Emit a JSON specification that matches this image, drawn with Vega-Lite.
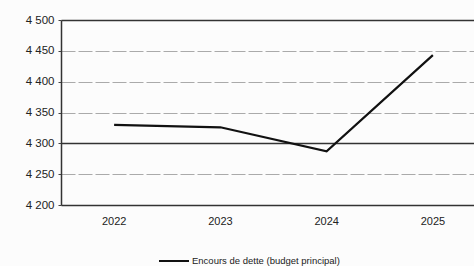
{
  "$schema": "https://vega.github.io/schema/vega-lite/v6.json",
  "autosize": "none",
  "padding": {"left": 61, "top": 20, "right": 0, "bottom": 61},
  "width": 425,
  "height": 185,
  "background": "#fcfcfc",
  "config": {"view": {"stroke": null}, "font": "Liberation Sans"},
  "data": {"values": [
    {"annee": "2022", "valeur": 4330, "serie": "Encours de dette (budget principal)"},
    {"annee": "2023", "valeur": 4326, "serie": "Encours de dette (budget principal)"},
    {"annee": "2024", "valeur": 4287, "serie": "Encours de dette (budget principal)"},
    {"annee": "2025", "valeur": 4443, "serie": "Encours de dette (budget principal)"}
  ]},
  "mark": {"type": "line", "strokeWidth": 2.2, "color": "#111"},
  "encoding": {
    "x": {
      "field": "annee", "type": "ordinal",
      "scale": {"type": "band", "paddingInner": 0, "paddingOuter": 0},
      "axis": {"title": null, "labelAngle": 0, "ticks": false, "domain": false, "labelFontSize": 11, "labelColor": "#222", "labelPadding": 10}
    },
    "y": {
      "field": "valeur", "type": "quantitative",
      "scale": {"domain": [4200, 4500], "zero": false, "nice": false},
      "axis": {
        "title": null, "values": [4200, 4250, 4300, 4350, 4400, 4450, 4500],
        "labelExpr": "replace(format(datum.value, ','), ',', ' ')",
        "labelFontSize": 11.5, "labelColor": "#222", "labelPadding": 4,
        "tickSize": 3, "tickColor": "#444", "domainColor": "#333", "domainWidth": 1.5,
        "gridColor": {"condition": {"test": "datum.value == 4300 || datum.value == 4500 || datum.value == 4200", "value": "#333"}, "value": "#aaa"},
        "gridDash": {"condition": {"test": "datum.value == 4300 || datum.value == 4500 || datum.value == 4200", "value": []}, "value": [14, 3]},
        "gridWidth": {"condition": {"test": "datum.value == 4300 || datum.value == 4500 || datum.value == 4200", "value": 1.3}, "value": 1}
      }
    },
    "color": {
      "field": "serie", "type": "nominal",
      "scale": {"range": ["#111"]},
      "legend": {"title": null, "orient": "none", "legendX": 97, "legendY": 225, "symbolType": "stroke", "symbolSize": 900, "symbolStrokeWidth": 2, "labelFontSize": 9.5, "labelColor": "#222", "labelOffset": 2}
    }
  }
}
